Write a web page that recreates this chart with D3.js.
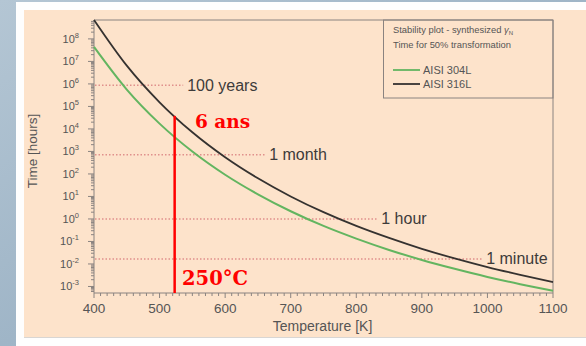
<!DOCTYPE html>
<html>
<head>
<meta charset="utf-8">
<script src="https://cdnjs.cloudflare.com/ajax/libs/d3/7.8.5/d3.min.js"></script>
<style>
  html, body { margin: 0; padding: 0; background: #fff; }
  svg { display: block; }
</style>
</head>
<body>
<div id="chart"></div>
<script>
// temperature grid [K]
var temps = [400, 450, 500, 550, 600, 650, 700, 750, 800, 850, 900, 950, 1000, 1050, 1100];
// time for 50% transformation [hours]
var aisi304 = [4.4e7, 5.6e5, 1.72e4, 990, 92, 12.4, 2.2, 0.49, 0.134, 0.042, 0.0151, 0.0061, 0.00265, 0.00126, 0.00064];
var aisi316 = [7.0e8, 6.5e6, 1.53e5, 7100, 553, 64, 10, 2.0, 0.49, 0.143, 0.047, 0.0177, 0.0073, 0.0033, 0.00157];

var xTicks = [400, 500, 600, 700, 800, 900, 1000, 1100];
var yExps = [-3, -2, -1, 0, 1, 2, 3, 4, 5, 6, 7, 8];

// reference times and where their dotted lines stop
var refLabels = ["100 years", "1 month", "1 hour", "1 minute"];
var refHours = [876000, 720, 1, 1 / 60];
var refEndT = [536, 661, 832, 992];

// 250 degC marker
var markT = 523;
var markHours = 3.8e4;

var W = 586, H = 346;
var svg = d3.select("#chart").append("svg").attr("width", W).attr("height", H);

// background: blue photo strip, white card, peach panel
var defs = svg.append("defs");
var grad = defs.append("linearGradient").attr("id", "bg").attr("x1", 0).attr("y1", 0).attr("x2", 1).attr("y2", 1);
grad.append("stop").attr("offset", "0%").attr("stop-color", "#b4c6d4");
grad.append("stop").attr("offset", "50%").attr("stop-color", "#9fb5c7");
grad.append("stop").attr("offset", "100%").attr("stop-color", "#b7c7d3");
svg.append("rect").attr("width", W).attr("height", H).attr("fill", "url(#bg)");
svg.append("rect").attr("x", 16).attr("y", 2).attr("width", W - 16).attr("height", H - 2).attr("fill", "#fefefe");
svg.append("rect").attr("x", 24).attr("y", 10).attr("width", W - 24).attr("height", 327).attr("fill", "#fde3cb");
svg.append("line").attr("x1", 24).attr("x2", W).attr("y1", 337.5).attr("y2", 337.5)
  .attr("stroke", "#d9d6d3").attr("stroke-width", 1);

var pLeft = 94, pRight = 553, pTop = 20, pBottom = 293;

var x = d3.scaleLinear().domain([400, 1100]).range([pLeft, pRight]);
var y = d3.scaleLog().domain([Math.pow(10, -3.29), Math.pow(10, 8.84)]).range([pBottom, pTop]);

var g = svg.append("g");
var axisCol = "#8a8380";
var sans = "Liberation Sans, Arial, sans-serif";

// frame top/right
g.append("path")
  .attr("d", "M" + pLeft + "," + pTop + "H" + pRight + "V" + pBottom)
  .attr("fill", "none").attr("stroke", axisCol).attr("stroke-width", 1);

// x axis with minor ticks every 10 K
var xMinor = d3.range(400, 1101, 10);
g.append("line").attr("x1", pLeft).attr("x2", pRight).attr("y1", pBottom).attr("y2", pBottom)
  .attr("stroke", axisCol);
g.selectAll(".xminor").data(xMinor).enter().append("line")
  .attr("x1", function(d) { return x(d); }).attr("x2", function(d) { return x(d); })
  .attr("y1", pBottom).attr("y2", function(d) { return d % 100 === 0 ? pBottom + 5 : pBottom + 3; })
  .attr("stroke", axisCol).attr("stroke-width", 1);
g.selectAll(".xlab").data(xTicks).enter().append("text")
  .attr("x", function(d) { return x(d); }).attr("y", 313)
  .attr("text-anchor", "middle")
  .attr("font-family", sans).attr("font-size", 13.5)
  .attr("fill", "#555").text(function(d) { return d; });
g.append("text").attr("x", (pLeft + pRight) / 2 - 1).attr("y", 331)
  .attr("text-anchor", "middle")
  .attr("font-family", sans).attr("font-size", 14)
  .attr("fill", "#555").text("Temperature [K]");

// y axis, log with minor ticks
g.append("line").attr("x1", pLeft).attr("x2", pLeft).attr("y1", pTop).attr("y2", pBottom)
  .attr("stroke", axisCol);
var yMinor = [];
yExps.concat([-4]).forEach(function(e) {
  for (var k = 1; k < 10; k++) {
    var v = k * Math.pow(10, e);
    if (v >= y.domain()[0] && v <= y.domain()[1]) yMinor.push(v);
  }
});
g.selectAll(".yminor").data(yMinor).enter().append("line")
  .attr("y1", function(d) { return y(d); }).attr("y2", function(d) { return y(d); })
  .attr("x1", pLeft).attr("x2", function(d) {
    var e = Math.log10(d);
    return Math.abs(e - Math.round(e)) < 1e-9 ? pLeft - 6 : pLeft - 3;
  })
  .attr("stroke", axisCol).attr("stroke-width", 1);
var ylab = g.selectAll(".ylab").data(yExps).enter().append("text")
  .attr("x", 79).attr("y", function(d) { return y(Math.pow(10, d)) + 4; })
  .attr("text-anchor", "end")
  .attr("font-family", sans).attr("font-size", 11)
  .attr("fill", "#555");
ylab.append("tspan").text("10");
ylab.append("tspan").attr("dy", -5).attr("font-size", 7.5).text(function(d) { return d; });

g.append("text")
  .attr("transform", "translate(37,151) rotate(-90)")
  .attr("text-anchor", "middle")
  .attr("font-family", sans).attr("font-size", 13.5)
  .attr("fill", "#555").text("Time [hours]");

// dotted reference lines
refHours.forEach(function(h, i) {
  g.append("line")
    .attr("x1", pLeft + 1).attr("x2", x(refEndT[i]))
    .attr("y1", y(h)).attr("y2", y(h))
    .attr("stroke", "#e0908c").attr("stroke-width", 1.5)
    .attr("stroke-dasharray", "1.5,2");
  g.append("text")
    .attr("x", x(refEndT[i]) + 4).attr("y", y(h) + 5.5)
    .attr("font-family", sans).attr("font-size", 16)
    .attr("fill", "#3d3b3a").text(refLabels[i]);
});

// curves
var line = d3.line()
  .x(function(d) { return x(d[0]); })
  .y(function(d) { return y(d[1]); })
  .curve(d3.curveMonotoneX);

g.append("path").datum(d3.zip(temps, aisi304))
  .attr("d", line).attr("fill", "none")
  .attr("stroke", "#63b560").attr("stroke-width", 2);
g.append("path").datum(d3.zip(temps, aisi316))
  .attr("d", line).attr("fill", "none")
  .attr("stroke", "#353230").attr("stroke-width", 1.8);

// legend box
var lg = g.append("g");
lg.append("rect").attr("x", 383.5).attr("y", pTop).attr("width", pRight - 383.5).attr("height", 78)
  .attr("fill", "none").attr("stroke", axisCol);
var t1 = lg.append("text").attr("x", 393).attr("y", 33)
  .attr("font-family", sans).attr("font-size", 9.4).attr("fill", "#555");
t1.append("tspan").text("Stability plot - synthesized ");
t1.append("tspan").attr("font-style", "italic").text("γ");
t1.append("tspan").attr("dy", 2).attr("font-size", 6).text("N");
lg.append("text").attr("x", 393).attr("y", 48)
  .attr("font-family", sans).attr("font-size", 9.4).attr("fill", "#555")
  .text("Time for 50% transformation");
var legNames = ["AISI 304L", "AISI 316L"];
var legCols = ["#63b560", "#353230"];
legNames.forEach(function(n, i) {
  var yy = 70 + i * 14;
  lg.append("line").attr("x1", 393).attr("x2", 420).attr("y1", yy).attr("y2", yy)
    .attr("stroke", legCols[i]).attr("stroke-width", 1.8);
  lg.append("text").attr("x", 423).attr("y", yy + 4)
    .attr("font-family", sans).attr("font-size", 11).attr("fill", "#555")
    .text(n);
});

// 250 degC annotation
g.append("line")
  .attr("x1", x(markT)).attr("x2", x(markT))
  .attr("y1", y(markHours)).attr("y2", pBottom)
  .attr("stroke", "#ff0000").attr("stroke-width", 2.5);
g.append("text").attr("x", 195).attr("y", 128)
  .attr("font-family", "DejaVu Serif, serif").attr("font-weight", "bold").attr("font-size", 18.5)
  .attr("fill", "#ff0000").text("6 ans");
g.append("text").attr("x", 182).attr("y", 285)
  .attr("font-family", "DejaVu Serif, serif").attr("font-weight", "bold").attr("font-size", 19.5)
  .attr("fill", "#ff0000").text("250°C");
</script>
</body>
</html>
